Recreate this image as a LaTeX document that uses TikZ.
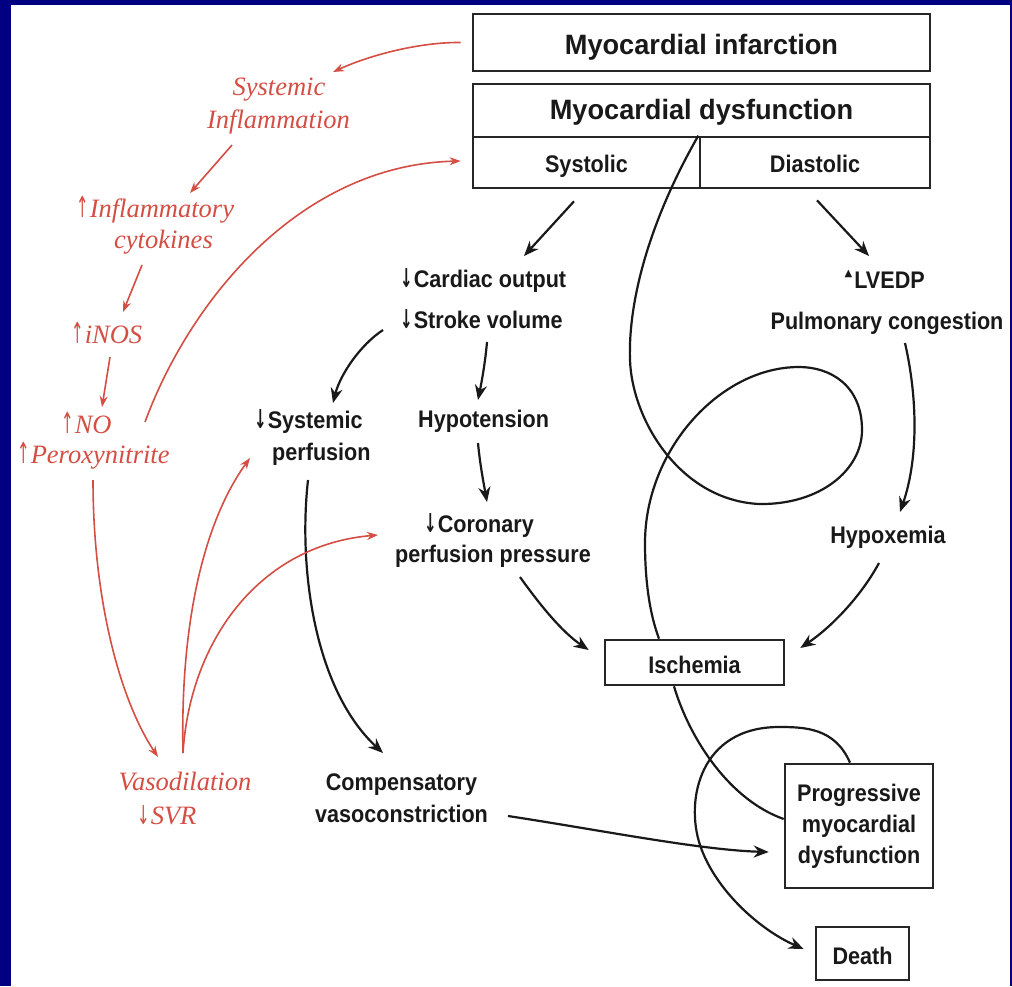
\documentclass[tikz,border=0pt]{standalone}
\usepackage{graphicx}
\usepackage{fontspec}
\newfontfamily\bodyf[FakeStretch=0.9]{Liberation Sans}
\newfontfamily\titlef[FakeStretch=0.97]{Liberation Sans}
\newfontfamily\redf{Liberation Serif}
\newfontfamily\symf{DejaVu Sans}
\usetikzlibrary{arrows.meta,calc}
\definecolor{navyb}{RGB}{0,0,128}
\definecolor{redc}{RGB}{212,78,68}
\newcommand{\mydn}{\scalebox{0.75}[1.3]{\symf\fontsize{20}{20}\selectfont ↓}\kern1pt}
\newcommand{\myup}{\scalebox{0.75}[1.45]{\symf\fontsize{20}{20}\selectfont ↑}\kern1pt}
\newcommand{\mytri}{{\symf\fontsize{10}{10}\selectfont\raisebox{12pt}{▲}}\kern2pt}
\begin{document}
\begin{tikzpicture}[x=1pt,y=-1pt,
 box/.style={draw=black!85,line width=2.6pt,inner sep=0pt,fill=white},
 ttl/.style={font=\titlef\bfseries\fontsize{28}{32}\selectfont},
 blk/.style={font=\bodyf\bfseries\fontsize{24}{31}\selectfont,inner sep=0pt,text=black!90},
 redt/.style={font=\redf\itshape\fontsize{26.5}{32}\selectfont,inner sep=0pt,text=redc},
 conn/.style={draw=black!90,line width=2.2pt},
 arr/.style={conn,-{Stealth[length=15pt,width=12pt]}},
 rarr/.style={draw=redc,line width=1.6pt,-{Stealth[length=11pt,width=8pt]}}]
\fill[navyb] (0,0) rectangle (1012,986);
\fill[white] (11,5) rectangle (1010,986);
\useasboundingbox (0,0) rectangle (1012,986);

% boxes
\node[box,blk,ttl,minimum width=457pt,text height=40.5pt,text depth=16.5pt] (mi) at (701.5,42.5) {Myocardial infarction};
\node[box,blk,ttl,minimum width=457pt,text height=35.5pt,text depth=17.5pt] (md) at (701.5,110.5) {Myocardial dysfunction};
\node[box,blk,minimum width=227pt,text height=35.5pt,text depth=15.5pt] (sys) at (586.5,162.5) {Systolic};
\node[box,blk,minimum width=230pt,text height=35.5pt,text depth=15.5pt] (dia) at (815,162.5) {Diastolic};
\node[box,blk,minimum width=179pt,text height=33.5pt,text depth=11.5pt] (isch) at (694.5,662.5) {Ischemia};
\node[box,blk,minimum width=148pt,minimum height=124pt,align=center] (prog) at (859,826) {Progressive\\myocardial\\dysfunction};
\node[box,blk,minimum width=93pt,text height=37pt,text depth=16pt] (death) at (862.5,953.5) {Death};

% black text
\node[blk,anchor=base west] (co) at (400,287) {\mydn Cardiac output};
\node[blk,anchor=base west] (sv) at (400,328) {\mydn Stroke volume};
\node[blk,anchor=base east] (lv) at (925,288) {\mytri LVEDP};
\node[blk,anchor=base] (pc) at (887,329) {Pulmonary congestion};
\node[blk,anchor=base] (hx) at (888,543) {Hypoxemia};
\node[blk,anchor=base west] (sp1) at (254,428) {\mydn Systemic};
\node[blk,anchor=base west] (sp2) at (272,460) {perfusion};
\node[blk,anchor=base west] (hy) at (418,427) {Hypotension};
\node[blk,anchor=base west] (cp1) at (424,532) {\mydn Coronary};
\node[blk,anchor=base west] (cp2) at (395,562) {perfusion pressure};
\node[blk,anchor=base] (cv1) at (401.5,790) {Compensatory};
\node[blk,anchor=base] (cv2) at (401.5,822) {vasoconstriction};

% red text
\node[redt,anchor=base] (si1) at (279,95) {Systemic};
\node[redt,anchor=base] (si2) at (278.5,128) {Inflammation};
\node[redt,anchor=base west] (ic1) at (76,217) {\myup Inflammatory};
\node[redt,anchor=base] (ic2) at (163.5,248) {cytokines};
\node[redt,anchor=base west] (inos) at (71,343) {\myup iNOS};
\node[redt,anchor=base west] (no1) at (61,433) {\myup NO};
\node[redt,anchor=base west] (no2) at (17,463) {\myup Peroxynitrite};
\node[redt,anchor=base] (vd1) at (185,790) {Vasodilation};
\node[redt,anchor=base west] (vd2) at (137,824) {\mydn SVR};

% black connectors
\draw[arr] ($(sys.south)+(-12.5,12)$) -- ($(co.base west)+(124,-31)$);
\draw[arr] ($(dia.south)+(2,11)$) -- ($(lv.base east)+(-56,-32)$);
\draw[arr] ($(sv.base west)+(-17,2)$) .. controls (360,345) and (340,375) .. ($(sp1.base west)+(79,-25)$);
\draw[arr] ($(sv.base west)+(87,14)$) .. controls (485,365) and (481,385) .. ($(hy.base west)+(60,-27)$);
\draw[arr] ($(hy.base west)+(60,16)$) .. controls (480,465) and (484,485) .. ($(cp1.base west)+(63,-30)$);
\draw[arr] ($(sp2.base west)+(36,20)$) .. controls (298,570) and (315,690) .. ($(cv1.base)+(-18.5,-37)$);
\draw[arr] ($(cp2.base west)+(125,15)$) .. controls (540,605) and (562,632) .. ($(isch.west)+(-15,-12.5)$);
\draw[arr] ($(pc.base)+(18,14)$) .. controls (918,400) and (918,460) .. ($(hx.base)+(12,-31)$);
\draw[arr] ($(hx.base)+(-9,20)$) .. controls (860,598) and (830,628) .. ($(isch.east)+(15,-14.5)$);
\draw[arr] ($(cv2.base)+(106.5,-6)$) .. controls (600,830) and (700,850) .. ($(prog.west)+(-15,26)$);
\draw[conn] ($(sys.north east)+(-3,0)$) .. controls (650,220) and (628,300) .. (630,360)
  .. controls (632,420) and (680,500) .. (759,504)
  .. controls (820,505) and (862,470) .. (862,430)
  .. controls (862,385) and (830,367) .. (799,367)
  .. controls (720,367) and (645,450) .. (645,543)
  .. controls (645,590) and (652,620) .. ($(isch.north)+(-35.5,0)$);
\draw[conn] ($(isch.south)+(-20.5,0)$) .. controls (690,740) and (730,800) .. ($(prog.west)+(0,-7)$);
\draw[arr] ($(prog.north)+(-9,0)$) .. controls (835,728) and (805,727) .. (779,727)
  .. controls (700,727) and (685,800) .. (700,845)
  .. controls (715,890) and (760,930) .. ($(death.west)+(-11,-4.5)$);

% red connectors
\draw[rarr] ($(mi.west)+(-11,0)$) .. controls (420,42) and (370,55) .. ($(si1.base)+(54,-23)$);
\draw[rarr] ($(si2.base)+(-46.5,17)$) -- ($(ic1.base west)+(114,-24)$);
\draw[rarr] ($(ic2.base)+(-21.5,17)$) -- ($(inos.base west)+(52,-31)$);
\draw[rarr] ($(inos.base west)+(39,14)$) -- ($(no1.base west)+(41,-26)$);
\draw[rarr] ($(no1.base west)+(84,-11)$) .. controls (190,300) and (300,165) .. ($(sys.west)+(-11,-1.5)$);
\draw[rarr] ($(no2.base west)+(76,17)$) .. controls (93,600) and (120,700) .. ($(vd1.base)+(-27,-33)$);
\draw[rarr] ($(vd1.base)+(-2,-37)$) .. controls (180,620) and (205,520) .. ($(sp1.base west)+(-4,30)$);
\draw[rarr] ($(vd1.base)+(-2,-37)$) .. controls (190,640) and (260,545) .. ($(cp1.base west)+(-46,3)$);
\end{tikzpicture}
\end{document}
